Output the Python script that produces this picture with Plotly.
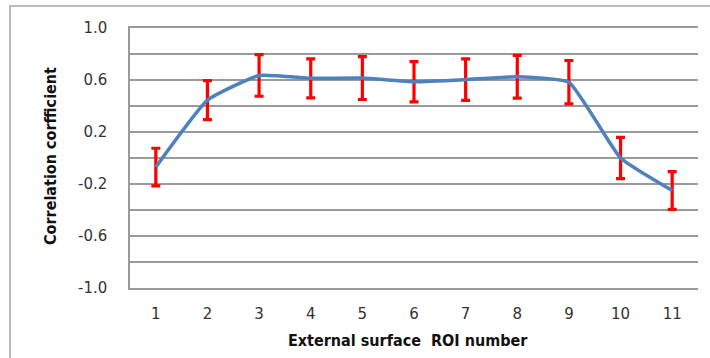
import plotly.graph_objects as go

roi = [1, 2, 3, 4, 5, 6, 7, 8, 9, 10, 11]
corr = [-0.07, 0.445, 0.635, 0.613, 0.615, 0.587, 0.603, 0.625, 0.583, 0.0, -0.25]
err = [0.145, 0.15, 0.16, 0.15, 0.165, 0.155, 0.16, 0.165, 0.167, 0.158, 0.145]
y_tickvals = [1.0, 0.8, 0.6, 0.4, 0.2, 0.0, -0.2, -0.4, -0.6, -0.8, -1.0]
y_ticktext = ["1.0", "", "0.6", "", "0.2", "", "-0.2", "", "-0.6", "", "-1.0"]
x_ticktext = [str(v) for v in roi]

W, H = 710, 358
L, R, T, B = 130, 12, 28, 70
pw, ph = W - L - R, H - T - B

def px(x):
    return (x - L) / pw

def py(y):
    return (H - B - y) / ph

fig = go.Figure()
fig.add_trace(go.Scatter(
    x=roi, y=corr, mode="lines",
    line=dict(color="#4f81bd", width=3.5, shape="spline", smoothing=0.4),
    error_y=dict(type="data", array=err, visible=True, color="#ff0000",
                 thickness=3.2, width=4.5),
    showlegend=False,
))

grid = "#9a9a9a"
fig.update_layout(
    width=W, height=H,
    margin=dict(l=L, r=R, t=T, b=B),
    paper_bgcolor="white", plot_bgcolor="white",
    font=dict(family="DejaVu Sans", size=15, color="#222222"),
    xaxis=dict(
        range=[0.5, 11.5], tickvals=roi, ticktext=x_ticktext,
        showgrid=False, zeroline=False,
        showline=True, linecolor=grid, linewidth=1.5, mirror=True,
        ticks="outside", ticklen=11, tickcolor="rgba(0,0,0,0)",
        tickfont=dict(size=15, color="#333333"),
    ),
    yaxis=dict(
        range=[-1.0, 1.0], tickvals=y_tickvals, ticktext=y_ticktext,
        showgrid=True, gridcolor=grid, gridwidth=1.5, zeroline=False,
        showline=True, linecolor=grid, linewidth=1.5,
        ticks="outside", ticklen=18, tickcolor="rgba(0,0,0,0)",
        tickfont=dict(size=15, color="#333333"),
    ),
    shapes=[dict(type="rect", xref="paper", yref="paper",
                 x0=px(10), y0=py(400), x1=px(760), y1=py(6),
                 line=dict(color="#a6a6a6", width=1.5), layer="below")],
    annotations=[
        dict(text="<b>External surface  ROI number</b>", xref="paper", yref="paper",
             x=px(408), y=py(340), xanchor="center", yanchor="middle",
             showarrow=False,
             font=dict(family="DejaVu Sans Condensed", size=16, color="#111111")),
        dict(text="<b>Correlation corfficient</b>", xref="paper", yref="paper",
             x=px(50), y=py(156), xanchor="center", yanchor="middle",
             textangle=-90, showarrow=False,
             font=dict(family="DejaVu Sans Condensed", size=16, color="#111111")),
    ],
)

fig.write_html("out.html")
